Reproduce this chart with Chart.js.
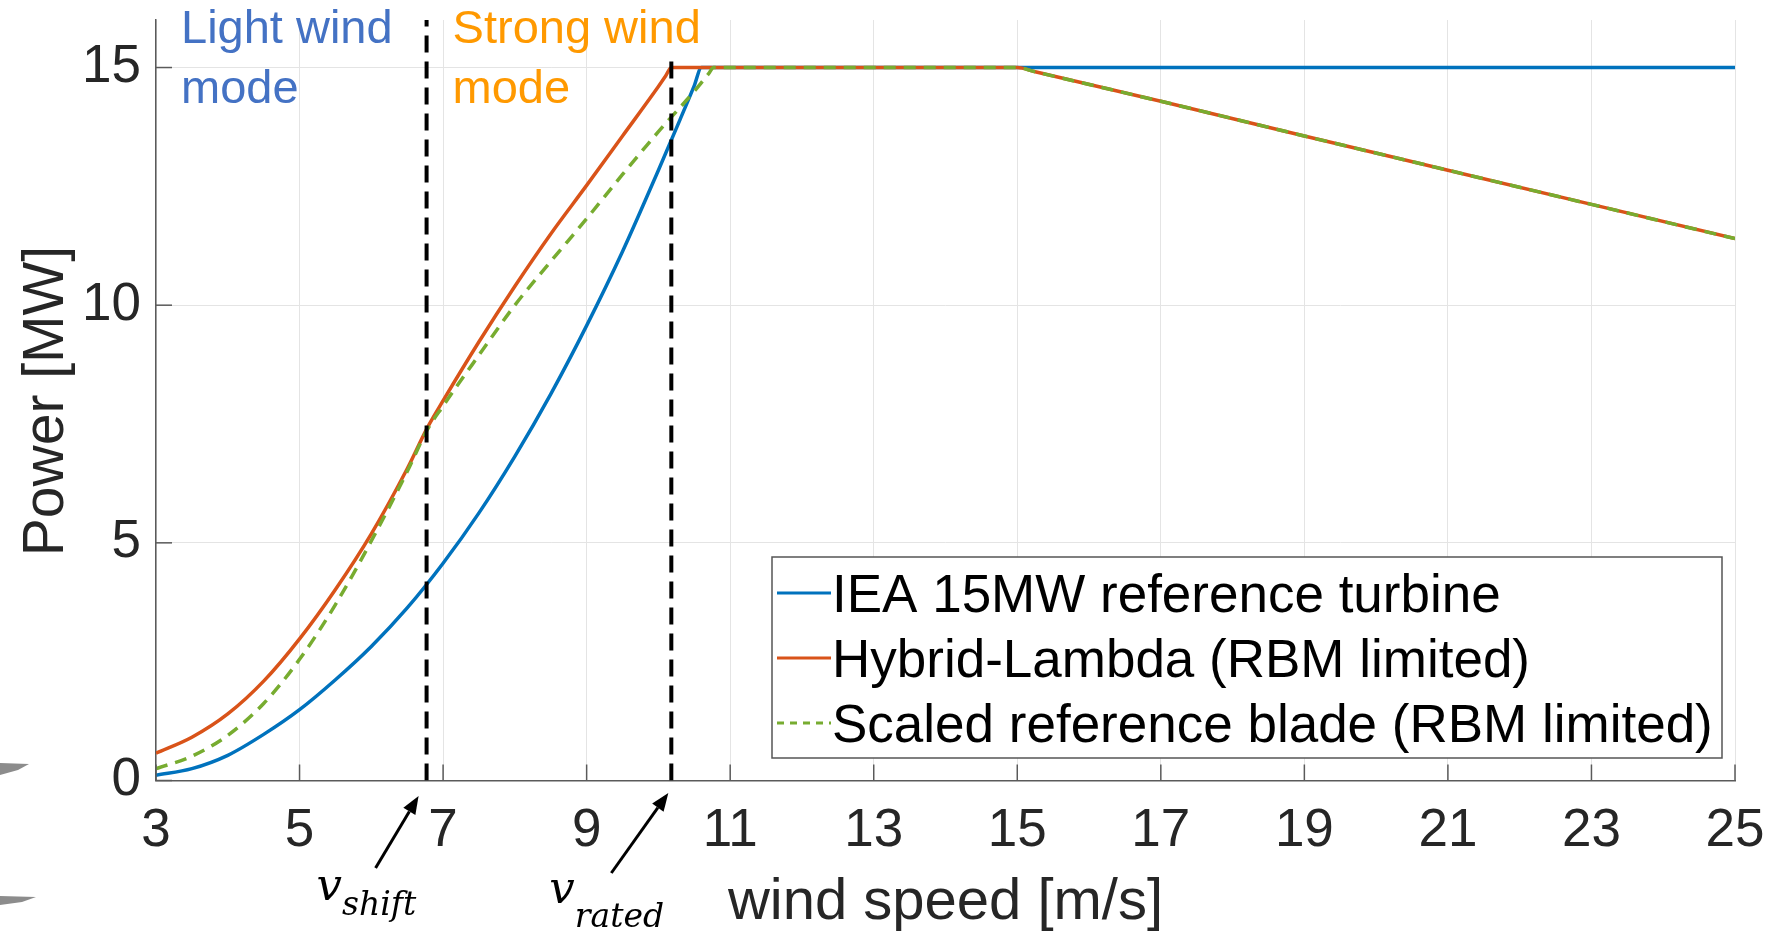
<!DOCTYPE html>
<html>
<head>
<meta charset="utf-8">
<title>Power curves</title>
<script src="https://cdn.jsdelivr.net/npm/chart.js@4.4.1/dist/chart.umd.min.js"></script>
<style>
  body { margin: 0; background: #ffffff; }
  #chartBox { width: 1787px; height: 934px; }
</style>
</head>
<body>
<div id="chartBox"><canvas id="powerChart" width="1787" height="934"></canvas></div>
<script>
// **Axis ticks**
const xTicks = [3, 5, 7, 9, 11, 13, 15, 17, 19, 21, 23, 25];
const yTicks = [0, 5, 10, 15];

// **Series: wind speed [m/s] and power [MW]**
const ieaSpeed = [3, 3.5, 4, 4.5, 5, 5.5, 6, 6.5, 7, 7.5, 8, 8.5, 9, 9.5, 10, 10.3, 10.5, 10.6, 11, 13, 15, 17, 19, 21, 23, 25];
const ieaPower = [0.11, 0.25, 0.53, 0.97, 1.49, 2.12, 2.82, 3.63, 4.57, 5.63, 6.82, 8.13, 9.57, 11.13, 12.84, 13.9, 14.62, 15, 15, 15, 15, 15, 15, 15, 15, 15];

const hybridSpeed = [3, 3.5, 4, 4.5, 5, 5.5, 6, 6.5, 6.78, 7, 7.5, 8, 8.5, 9, 9.5, 10, 10.1, 10.18, 11, 13, 15, 15.25, 17, 19, 21, 23, 25];
const hybridPower = [0.575, 0.91, 1.4, 2.09, 2.98, 4.02, 5.19, 6.56, 7.42, 7.99, 9.23, 10.4, 11.5, 12.52, 13.56, 14.6, 14.82, 15, 15, 15, 15, 14.91, 14.29, 13.56, 12.84, 12.12, 11.4];

const scaledSpeed = [3, 3.5, 4, 4.5, 5, 5.5, 6, 6.5, 6.78, 7, 7.5, 8, 8.5, 9, 9.5, 10, 10.5, 10.7, 10.77, 11, 13, 15, 15.25, 17, 19, 21, 23, 25];
const scaledPower = [0.25, 0.51, 0.95, 1.62, 2.55, 3.7, 5.04, 6.5, 7.38, 7.88, 8.95, 10.0, 10.92, 11.82, 12.75, 13.65, 14.5, 14.87, 15, 15, 15, 15, 14.91, 14.29, 13.56, 12.84, 12.12, 11.4];

const seriesLabels = ["IEA 15MW reference turbine", "Hybrid-Lambda (RBM limited)", "Scaled reference blade (RBM limited)"];

// **Mode boundaries**
const vShift = 6.77;
const vRated = 10.18;
const vShiftTop = 16;
const vRatedTop = 15.2;

// **Styles**
const FONT = '"Liberation Sans", Arial, sans-serif';
const MATH_FONT = '"DejaVu Serif", "Liberation Serif", serif';
const AXIS_COLOR = "#5a5a5a";
const TEXT_COLOR = "#262626";
const BLUE = "#0072BD";
const RED = "#D95319";
const GREEN = "#77AC30";
const GREEN_DASH = [12, 8];
const V_DASH = [17, 9];

function toPoints(xs, ys) {
    return xs.map((x, i) => ({ x: x, y: ys[i] }));
}

function line(ctx, x0, y0, x1, y1) {
    ctx.beginPath();
    ctx.moveTo(x0, y0);
    ctx.lineTo(x1, y1);
    ctx.stroke();
}

function arrow(ctx, x0, y0, x1, y1) {
    let ang = Math.atan2(y1 - y0, x1 - x0);
    let head = 18, half = 7;
    let bx = x1 - head * Math.cos(ang), by = y1 - head * Math.sin(ang);
    ctx.strokeStyle = "#000";
    ctx.lineWidth = 3;
    line(ctx, x0, y0, bx, by);
    ctx.fillStyle = "#000";
    ctx.beginPath();
    ctx.moveTo(x1, y1);
    ctx.lineTo(bx + half * Math.sin(ang), by - half * Math.cos(ang));
    ctx.lineTo(bx - half * Math.sin(ang), by + half * Math.cos(ang));
    ctx.closePath();
    ctx.fill();
}

function subLabel(ctx, x, base, subText, subBase) {
    ctx.fillStyle = "#000";
    ctx.textAlign = "left";
    ctx.textBaseline = "alphabetic";
    ctx.font = "italic 45px " + MATH_FONT;
    ctx.fillText("v", x, base);
    let w = ctx.measureText("v").width;
    ctx.font = "italic 33px " + MATH_FONT;
    ctx.fillText(subText, x + w, subBase);
}

// **Extra drawing: inside ticks, titles, legend, notes**
const decorPlugin = {
    id: "decor",
    afterDraw(chart) {
        let ctx = chart.ctx;
        let area = chart.chartArea;
        let xs = chart.scales.x, ys = chart.scales.y;
        ctx.save();

        // inside tick marks
        ctx.strokeStyle = AXIS_COLOR;
        ctx.lineWidth = 1.5;
        xTicks.forEach(v => {
            let px = xs.getPixelForValue(v);
            line(ctx, px, area.bottom, px, area.bottom - 16);
        });
        yTicks.forEach(v => {
            let py = ys.getPixelForValue(v);
            line(ctx, area.left, py, area.left + 16, py);
        });

        // axis titles
        ctx.fillStyle = TEXT_COLOR;
        ctx.font = "58px " + FONT;
        ctx.textAlign = "center";
        ctx.textBaseline = "alphabetic";
        ctx.fillText("wind speed [m/s]", (area.left + area.right) / 2, 919);
        ctx.save();
        ctx.translate(63, 401);
        ctx.rotate(-Math.PI / 2);
        ctx.font = "57px " + FONT;
        ctx.fillText("Power [MW]", 0, 0);
        ctx.restore();

        // mode labels
        let sx = xs.getPixelForValue(vShift);
        let rx = xs.getPixelForValue(vRated);
        ctx.textAlign = "left";
        ctx.font = "47px " + FONT;
        ctx.fillStyle = "#4472C4";
        ctx.fillText("Light wind", area.left + 25, 43);
        ctx.fillText("mode", area.left + 25, 103);
        ctx.fillStyle = "#FF9900";
        ctx.fillText("Strong wind", sx + 26, 43);
        ctx.fillText("mode", sx + 26, 103);

        // arrows and speed labels
        arrow(ctx, sx - 51, 868, sx - 8, 796);
        arrow(ctx, rx - 60, 873, rx - 3, 793);
        subLabel(ctx, sx - 110, 900, "shift", 915);
        subLabel(ctx, rx - 122, 903, "rated", 927);

        // legend
        let lx = 772, ly = 557, lw = 950, lh = 201;
        ctx.fillStyle = "#fff";
        ctx.fillRect(lx, ly, lw, lh);
        ctx.strokeStyle = "#555";
        ctx.lineWidth = 1.5;
        ctx.strokeRect(lx, ly, lw, lh);
        let colors = [BLUE, RED, GREEN];
        ctx.font = "53px " + FONT;
        ctx.textBaseline = "alphabetic";
        seriesLabels.forEach((label, i) => {
            let base = 612 + i * 65;
            ctx.strokeStyle = colors[i];
            ctx.lineWidth = 3;
            ctx.setLineDash(i === 2 ? [7, 6] : []);
            line(ctx, lx + 5, base - 19, lx + 59, base - 19);
            ctx.setLineDash([]);
            ctx.fillStyle = "#000";
            ctx.fillText(label, lx + 60, base);
        });

        // cropped blade shapes at the left edge
        ctx.fillStyle = "#8c8c8c";
        ctx.beginPath();
        ctx.moveTo(0, 763); ctx.lineTo(29, 764); ctx.lineTo(18, 770); ctx.lineTo(0, 775);
        ctx.closePath(); ctx.fill();
        ctx.beginPath();
        ctx.moveTo(0, 896); ctx.lineTo(36, 897); ctx.lineTo(22, 902); ctx.lineTo(0, 905);
        ctx.closePath(); ctx.fill();

        ctx.restore();
    }
};

let ctx = document.getElementById("powerChart").getContext("2d");

window.myChart = new Chart(ctx, {
    type: "line",
    data: {
        datasets: [
            {
                label: seriesLabels[0],
                data: toPoints(ieaSpeed, ieaPower),
                borderColor: BLUE,
                borderWidth: 3.5,
                cubicInterpolationMode: "monotone",
                order: 3
            },
            {
                label: seriesLabels[1],
                data: toPoints(hybridSpeed, hybridPower),
                borderColor: RED,
                borderWidth: 3.5,
                cubicInterpolationMode: "monotone",
                order: 2
            },
            {
                label: seriesLabels[2],
                data: toPoints(scaledSpeed, scaledPower),
                borderColor: GREEN,
                borderWidth: 3.5,
                borderDash: GREEN_DASH,
                cubicInterpolationMode: "monotone",
                order: 1
            },
            {
                label: "v_shift",
                data: [{ x: vShift, y: 0 }, { x: vShift, y: vShiftTop }],
                borderColor: "#000",
                borderWidth: 4,
                borderDash: V_DASH,
                order: 0
            },
            {
                label: "v_rated",
                data: [{ x: vRated, y: 0 }, { x: vRated, y: vRatedTop }],
                borderColor: "#000",
                borderWidth: 4,
                borderDash: V_DASH,
                order: 0
            }
        ]
    },
    options: {
        responsive: false,
        animation: false,
        devicePixelRatio: 1,
        events: [],
        elements: { point: { radius: 0 }, line: { tension: 0, fill: false } },
        layout: { padding: { left: 0, right: 52, top: 20, bottom: 0 } },
        plugins: { legend: { display: false }, tooltip: { enabled: false } },
        scales: {
            x: {
                type: "linear",
                min: 3,
                max: 25,
                afterBuildTicks: scale => { scale.ticks = xTicks.map(v => ({ value: v })); },
                afterFit: scale => {
                    scale.height = 153.5;
                    scale.paddingLeft = 0;
                    scale.paddingRight = 0;
                },
                grid: { color: "#e4e4e4", lineWidth: 1, drawTicks: false },
                border: { color: AXIS_COLOR, width: 1.5 },
                ticks: { color: TEXT_COLOR, font: { family: FONT, size: 53 }, padding: 19, maxRotation: 0 }
            },
            y: {
                type: "linear",
                min: 0,
                max: 16,
                afterBuildTicks: scale => { scale.ticks = yTicks.map(v => ({ value: v })); },
                afterFit: scale => {
                    scale.width = 156;
                    scale.paddingTop = 0;
                    scale.paddingBottom = 0;
                },
                grid: { color: "#e4e4e4", lineWidth: 1, drawTicks: false },
                border: { color: AXIS_COLOR, width: 1.5 },
                ticks: { color: TEXT_COLOR, font: { family: FONT, size: 53 }, padding: 15 }
            }
        }
    },
    plugins: [decorPlugin]
});
</script>
</body>
</html>
